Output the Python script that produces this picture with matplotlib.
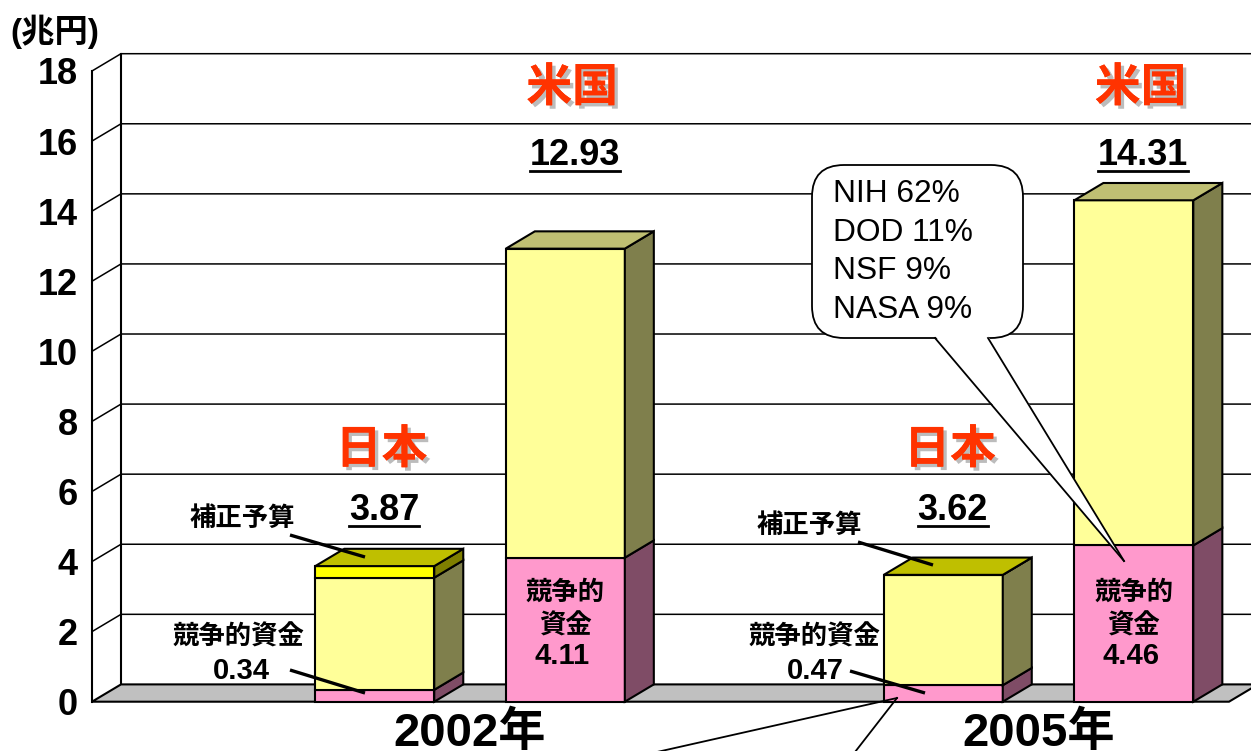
import numpy as np
import matplotlib
matplotlib.use('Agg')
import matplotlib.pyplot as plt
from matplotlib.patches import Polygon, FancyBboxPatch
from matplotlib.lines import Line2D
from matplotlib.transforms import Affine2D, IdentityTransform
import matplotlib.patheffects as pe

# ---------------- data ----------------
years = ['2002年', '2005年']
bar_country = ['日本', '米国', '日本', '米国']
bar_group = [0, 0, 1, 1]
competitive = [0.34, 4.11, 0.47, 4.46]          # 競争的資金
other = [3.20, 8.82, 3.15, 9.85]                # その他
supplementary = [0.33, np.nan, 0.0, np.nan]     # 補正予算
yticks = [0, 2, 4, 6, 8, 10, 12, 14, 16, 18]
callout_lines = ['NIH 62%', 'DOD 11%', 'NSF 9%', 'NASA 9%']
unit_label = '(兆円)'

# ---------------- style ----------------
LAT = 'Liberation Sans'
CJK = 'Noto Sans CJK JP'
MIX = [LAT, CJK]
RED = '#FF3300'
series_colors = [  # front, side, top
    ('#FF99CC', '#7F4C66', '#BF7399'),
    ('#FFFF99', '#7F7F4C', '#BFBF73'),
    ('#FFFF00', '#7F7F00', '#BFBF00'),
]
W, H = 1251, 751
fig = plt.figure(figsize=(W / 100, H / 100), dpi=100)
fig.patch.set_facecolor('white')
PX = Affine2D().scale(1, -1).translate(0, H)   # pixel coords (top origin)

ax_l, ax_r, ax_b, ax_t = 92, 1229, 701.7, 71
ax = fig.add_axes([ax_l / W, (H - ax_b) / H, (ax_r - ax_l) / W, (ax_b - ax_t) / H])
xl, xr = -0.665, 1.335
ax.set_xlim(xl, xr)
ax.set_ylim(0, 18)
ax.patch.set_visible(False)
for sp in ax.spines.values():
    sp.set_visible(False)
ax.set_xticks([])
ax.set_yticks(yticks)
ax.tick_params(axis='y', length=0, pad=10)
for lab in ax.get_yticklabels():
    lab.set_fontsize(26)
    lab.set_fontweight('bold')
    lab.set_family(LAT)

sx = (ax_r - ax_l) / (xr - xl)
sy = (ax_b - ax_t) / 18.0
ddx = 29 / sx
ddy = 17.3 / sy

# walls / gridlines
for v in yticks[1:]:
    ax.plot([xl, xl + ddx, xr + ddx + 0.3], [v, v + ddy, v + ddy], color='black',
            lw=1.1, clip_on=False, zorder=1, solid_capstyle='butt')
ax.plot([xl, xl], [0, 18], color='black', lw=1.5, clip_on=False, zorder=1)
ax.plot([xl + ddx, xl + ddx], [ddy, 18 + ddy], color='black', lw=1.5, clip_on=False, zorder=1)
floor = Polygon([(xl, 0), (xr, 0), (xr + ddx, ddy), (xl + ddx, ddy)], closed=True,
                facecolor='#C0C0C0', edgecolor='black', lw=1.5, zorder=2, clip_on=False)
ax.add_patch(floor)

# bars
bw = 0.2093
off = 0.1676
xpos = [g + (-off if c == '日本' else off) for g, c in zip(bar_group, bar_country)]
for i, x in enumerate(xpos):
    b = 0.0
    last = None
    for s, val in enumerate([competitive[i], other[i], supplementary[i]]):
        if np.isnan(val):
            continue
        front, side, top = series_colors[s]
        ax.bar(x, val, bw, bottom=b, color=front, edgecolor='black', lw=1.5,
               zorder=3, clip_on=False)
        x1 = x + bw / 2
        ax.add_patch(Polygon([(x1, b), (x1 + ddx, b + ddy), (x1 + ddx, b + val + ddy), (x1, b + val)],
                             closed=True, facecolor=side, edgecolor='black', lw=1.5,
                             zorder=3, clip_on=False, joinstyle='miter'))
        b += val
        last = s
    x0, x1 = x - bw / 2, x + bw / 2
    ax.add_patch(Polygon([(x0, b), (x1, b), (x1 + ddx, b + ddy), (x0 + ddx, b + ddy)],
                         closed=True, facecolor=series_colors[last][2], edgecolor='black',
                         lw=1.5, zorder=3, clip_on=False, joinstyle='miter'))

# ---------------- texts ----------------
shadow = [pe.withSimplePatchShadow(offset=(2.5, -2.5), shadow_rgbFace='#A0A0A0', alpha=0.7),
          pe.Normal()]
country_y = {'日本': 7.18, '米国': 17.51}
total_y = {'日本': 5.47, '米国': 15.60}
totals = []
for i, x in enumerate(xpos):
    c = bar_country[i]
    ax.text(x + 0.012, country_y[c], c, ha='center', va='center', fontsize=33,
            weight='bold', color=RED, family=CJK, path_effects=shadow, zorder=6)
    tot = competitive[i] + other[i] + (0 if np.isnan(supplementary[i]) else supplementary[i])
    t = ax.text(x + 0.0166, total_y[c], f'{tot:.2f}', ha='center', va='center',
                fontsize=26, weight='bold', family=LAT, zorder=6)
    totals.append(t)
    if c == '米国':
        ax.text(x, (ax_b - 592) / sy, '競争的', ha='center', va='center', fontsize=19,
                weight='bold', family=CJK, zorder=6)
        ax.text(x, (ax_b - 626) / sy, '資金', ha='center', va='center', fontsize=19,
                weight='bold', family=CJK, zorder=6)
        ax.text(x - 0.005, (ax_b - 656) / sy, f'{competitive[i]:.2f}', ha='center', va='center',
                fontsize=21, weight='bold', family=LAT, zorder=6)

for g, yr in enumerate(years):
    ax.text(g, -(746 - ax_b) / sy, yr, ha='center', va='baseline', fontsize=34,
            weight='bold', family=MIX, clip_on=False, zorder=6)

fig.text(10, 32, unit_label, transform=PX, ha='left', va='center', fontsize=24,
         weight='bold', family=MIX)

# Japanese side annotations (pixel layout)
jp_ann = [
    dict(sup_xy=(242, 518), sup_line=((290, 535), (365, 557)),
         comp_xy=(239, 637), val_xy=(241, 671), comp_line=((290, 670), (365, 693)), val=competitive[0]),
    dict(sup_xy=(809, 525), sup_line=((858, 542), (933, 565)),
         comp_xy=(815, 637), val_xy=(815, 671), comp_line=((850, 671), (925, 693)), val=competitive[2]),
]
for a in jp_ann:
    fig.text(*a['sup_xy'], '補正予算', transform=PX, ha='center', va='center',
             fontsize=19, weight='bold', family=CJK, zorder=7)
    fig.text(*a['comp_xy'], '競争的資金', transform=PX, ha='center', va='center',
             fontsize=19, weight='bold', family=CJK, zorder=7)
    fig.text(*a['val_xy'], f"{a['val']:.2f}", transform=PX, ha='center', va='center',
             fontsize=21, weight='bold', family=LAT, zorder=7)
    for (p0, p1) in [a['sup_line'], a['comp_line']]:
        fig.add_artist(Line2D([p0[0], p1[0]], [p0[1], p1[1]], transform=PX, color='black',
                              lw=2.4, zorder=7, solid_capstyle='butt'))

# callout box
box = FancyBboxPatch((812, 165), 211, 173, boxstyle='round,pad=0,rounding_size=32',
                     transform=PX, facecolor='white', edgecolor='black', lw=1.3, zorder=10)
fig.add_artist(box)
tip = (1124, 561)
fig.add_artist(Polygon([(935, 336.0), (988, 336.0), tip], closed=True, transform=PX,
                       facecolor='white', edgecolor='none', zorder=11))
for bx in (935, 988):
    fig.add_artist(Line2D([bx, tip[0]], [338, tip[1]], transform=PX, color='black', lw=1.3, zorder=12))
for k, line in enumerate(callout_lines):
    fig.text(833, 194 + 38.7 * k, line, transform=PX, ha='left', va='center',
             fontsize=22.8, family=LAT, zorder=13)

# partial callout tail at bottom (cut off)
tip2 = (897, 698)
for bx in (657, 855):
    fig.add_artist(Line2D([bx, tip2[0]], [752, tip2[1]], transform=PX, color='black', lw=1.3, zorder=12))

# underline totals
fig.canvas.draw()
for t in totals:
    bb = t.get_window_extent()
    y = bb.y0 + 1.5
    fig.add_artist(Line2D([bb.x0, bb.x1], [y, y], transform=IdentityTransform(),
                          color='black', lw=2.0, zorder=8))

fig.savefig('out.png', dpi=100, facecolor='white')
